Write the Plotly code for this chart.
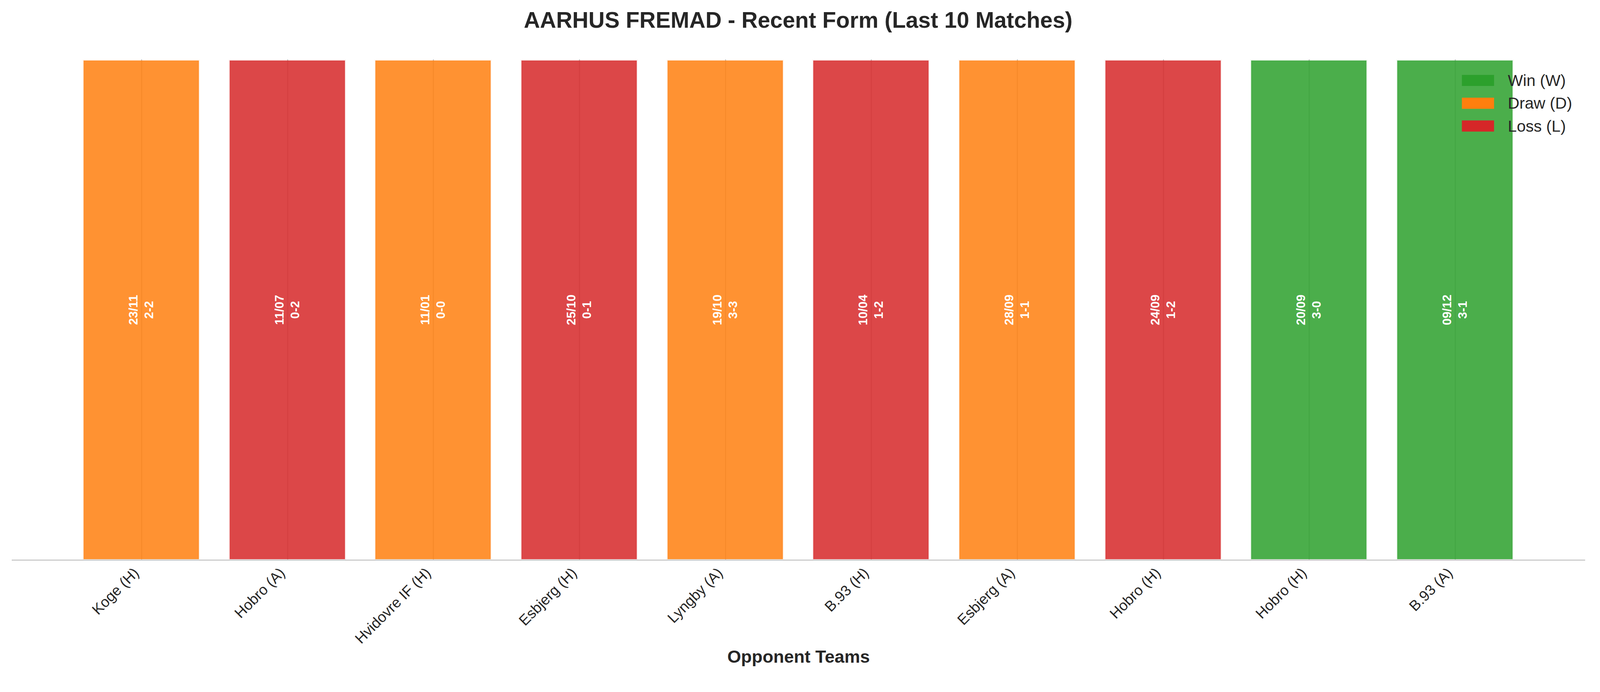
import plotly.graph_objects as go

# ---------------- data ----------------
TEAM = "AARHUS FREMAD"
opponents = ["Koge (H)", "Hobro (A)", "Hvidovre IF (H)", "Esbjerg (H)", "Lyngby (A)",
             "B.93 (H)", "Esbjerg (A)", "Hobro (H)", "Hobro (H)", "B.93 (A)"]
dates = ["23/11", "11/07", "11/01", "25/10", "19/10", "10/04", "28/09", "24/09", "20/09", "09/12"]
scores = ["2-2", "0-2", "0-0", "0-1", "3-3", "1-2", "1-1", "1-2", "3-0", "3-1"]
results = ["D", "L", "D", "L", "D", "L", "D", "L", "W", "W"]
bar_height = [1] * len(opponents)

RESULT_RGB = {"W": (44, 160, 44), "D": (255, 127, 14), "L": (214, 39, 40)}
RESULT_NAME = {"W": "Win (W)", "D": "Draw (D)", "L": "Loss (L)"}
LEGEND_ORDER = ["W", "D", "L"]

FONT = "Liberation Sans, Arial, Helvetica, sans-serif"
TXT = "#262626"

# the page gets shown a bit enlarged and shifted by the body margin,
# so everything is laid out in reference pixels and converted here
S = 0.98
OFF = 8
W = int(4170 * S) - 2 * OFF
H = int(1771 * S) - 2 * OFF


def fp(r):
    # reference pixel -> figure pixel
    return r * S - OFF


def sz(v):
    return v * S


PLOT_L, PLOT_R, PLOT_T, PLOT_B = fp(31), fp(4141), fp(155), fp(1461)


def rgba(rgb, a):
    return "rgba(%d,%d,%d,%.2f)" % (rgb[0], rgb[1], rgb[2], a)


def px_x(r):
    return (fp(r) - PLOT_L) / (PLOT_R - PLOT_L)


def px_y(r):
    return (PLOT_B - fp(r)) / (PLOT_B - PLOT_T)


x = list(range(len(opponents)))
fills = [rgba(RESULT_RGB[r], 0.85) for r in results]
edges = [rgba(RESULT_RGB[r], 0.13) for r in results]
labels = [f"{d}<br>{s}" for d, s in zip(dates, scores)]

fig = go.Figure()
fig.add_trace(go.Bar(
    x=x, y=bar_height, width=0.79,
    marker=dict(color=fills, line=dict(color=edges, width=sz(4))),
    text=labels, textposition="inside", insidetextanchor="middle", textangle=-90,
    textfont=dict(color="white", size=sz(32), family=FONT, weight="bold"),
    showlegend=False, hoverinfo="skip",
))

fig.update_layout(
    width=W, height=H,
    margin=dict(l=round(PLOT_L), r=round(W - PLOT_R), t=round(PLOT_T), b=round(H - PLOT_B)),
    paper_bgcolor="white", plot_bgcolor="white",
    font=dict(family=FONT, color=TXT),
    title=dict(text=f"<b>{TEAM} - Recent Form (Last 10 Matches)</b>",
               font=dict(size=sz(58.5), color=TXT, family=FONT),
               x=fp(2085) / W, xref="container", xanchor="center",
               y=1 - fp(52) / H, yref="container", yanchor="middle"),
    showlegend=False,
    bargap=0,
)

fig.update_xaxes(
    range=[-0.89, 9.89], tickvals=x, ticktext=opponents, tickangle=-45,
    tickfont=dict(size=sz(38.5), color=TXT), ticks="",
    ticklabelshift=-18, ticklabelstandoff=-6,
    showgrid=True, gridcolor="#cccccc", gridwidth=sz(3),
    showline=True, linecolor="#cccccc", linewidth=sz(3), zeroline=False,
)
fig.update_yaxes(range=[0, 1.0035], visible=False, showgrid=False)

# legend: colour patches + labels, upper right inside the axes
for i, key in enumerate(LEGEND_ORDER):
    yc = 210 + i * 59.5
    fig.add_shape(type="rect", xref="paper", yref="paper",
                  x0=px_x(3819), x1=px_x(3903), y0=px_y(yc + 14.5), y1=px_y(yc - 14.5),
                  fillcolor=rgba(RESULT_RGB[key], 1), line=dict(width=0))
    fig.add_annotation(text=RESULT_NAME[key], xref="paper", yref="paper",
                       x=px_x(3937), y=px_y(yc), xanchor="left", yanchor="middle",
                       showarrow=False, font=dict(size=sz(42), color=TXT, family=FONT))

fig.add_annotation(text="<b>Opponent Teams</b>", xref="paper", yref="paper",
                   x=0.5, y=px_y(1715), xanchor="center", yanchor="middle",
                   showarrow=False, font=dict(size=sz(46), color=TXT, family=FONT))

fig.write_html("out.html")
